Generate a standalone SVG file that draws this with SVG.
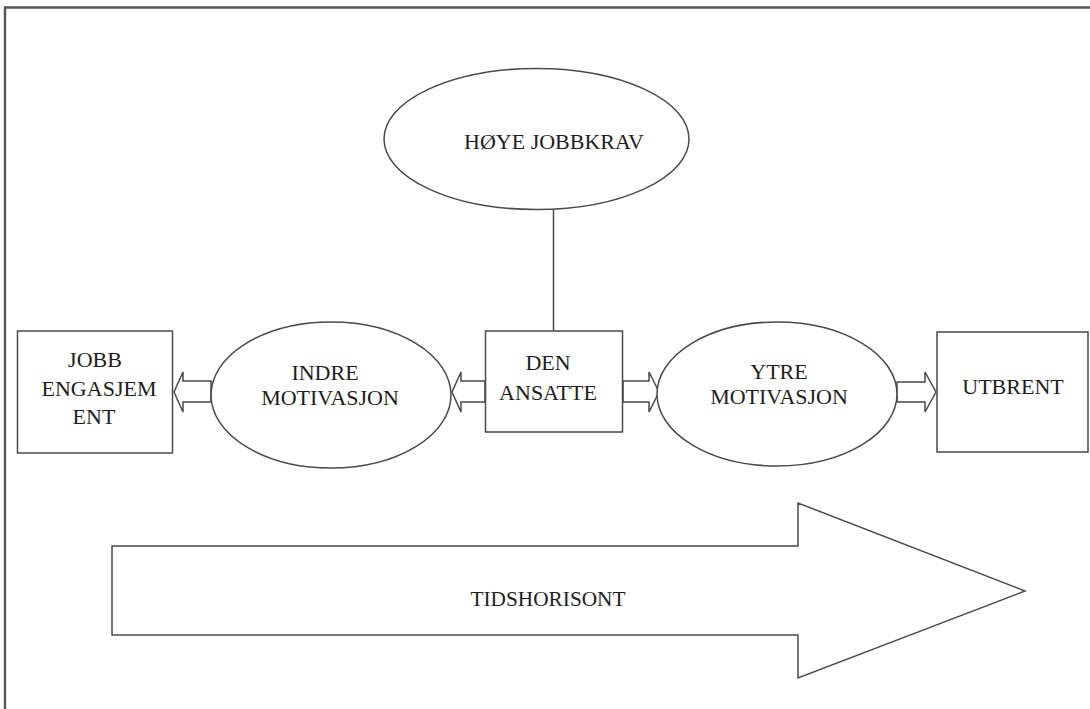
<svg xmlns="http://www.w3.org/2000/svg" width="1090" height="709" viewBox="0 0 1090 709">
  <style>
    .shape { fill: #ffffff; stroke: #4a4a4a; stroke-width: 1.5; }
    .frame { fill: none; stroke: #555555; stroke-width: 2.4; }
    .conn { fill: none; stroke: #4a4a4a; stroke-width: 1.5; }
    .blk { fill: #ffffff; stroke: #4a4a4a; stroke-width: 1.5; stroke-linejoin: miter; }
    .lbl { font-family: "Liberation Serif", "Times New Roman", serif; font-size: 22px; fill: #1e1e1e; text-anchor: middle; }
  </style>
  <rect x="0" y="0" width="1090" height="709" fill="#ffffff"/>
  <path class="frame" d="M5,709 L5,7.5 L1090,7.5"/>

  <g id="connectors">
    <line class="conn" x1="553.5" y1="210" x2="553.5" y2="331"/>
    <!-- JOBB <= INDRE -->
    <path class="blk" d="M211,381 L183,381 L183,372 L174,392 L183,412 L183,402 L211,402 Z"/>
    <!-- INDRE <= DEN -->
    <path class="blk" d="M485,381 L461,381 L461,372 L452,392 L461,412 L461,402 L485,402 Z"/>
    <!-- DEN => YTRE -->
    <path class="blk" d="M623,381 L649,381 L649,372 L659,392 L649,412 L649,402 L623,402 Z"/>
    <!-- YTRE => UTBRENT -->
    <path class="blk" d="M897,382 L925,382 L925,372 L936,392 L925,412 L925,402 L897,402 Z"/>
  </g>

  <g id="node-hoye-jobbkrav">
    <ellipse class="shape" cx="536.5" cy="139" rx="152.5" ry="70.5"/>
    <text class="lbl" x="554" y="149">HØYE JOBBKRAV</text>
  </g>

  <g id="node-jobb-engasjement">
    <rect class="shape" x="17.5" y="331" width="155" height="122"/>
    <text class="lbl" x="95" y="367">JOBB</text>
    <text class="lbl" x="99" y="396">ENGASJEM</text>
    <text class="lbl" x="94" y="424">ENT</text>
  </g>

  <g id="node-indre-motivasjon">
    <ellipse class="shape" cx="331" cy="395" rx="120" ry="73"/>
    <text class="lbl" x="325" y="380">INDRE</text>
    <text class="lbl" x="330" y="405">MOTIVASJON</text>
  </g>

  <g id="node-den-ansatte">
    <rect class="shape" x="485.5" y="331" width="137" height="101"/>
    <text class="lbl" x="548" y="370">DEN</text>
    <text class="lbl" x="548" y="400">ANSATTE</text>
  </g>

  <g id="node-ytre-motivasjon">
    <ellipse class="shape" cx="777" cy="394" rx="120" ry="72"/>
    <text class="lbl" x="779" y="379">YTRE</text>
    <text class="lbl" x="779" y="404">MOTIVASJON</text>
  </g>

  <g id="node-utbrent">
    <rect class="shape" x="937" y="332" width="151" height="120"/>
    <text class="lbl" x="1013" y="394">UTBRENT</text>
  </g>

  <g id="node-tidshorisont">
    <path class="blk" d="M112,546 L798,546 L798,503 L1025,591 L798,678 L798,635 L112,635 Z"/>
    <text class="lbl" x="548" y="606" textLength="155" lengthAdjust="spacingAndGlyphs">TIDSHORISONT</text>
  </g>
</svg>
